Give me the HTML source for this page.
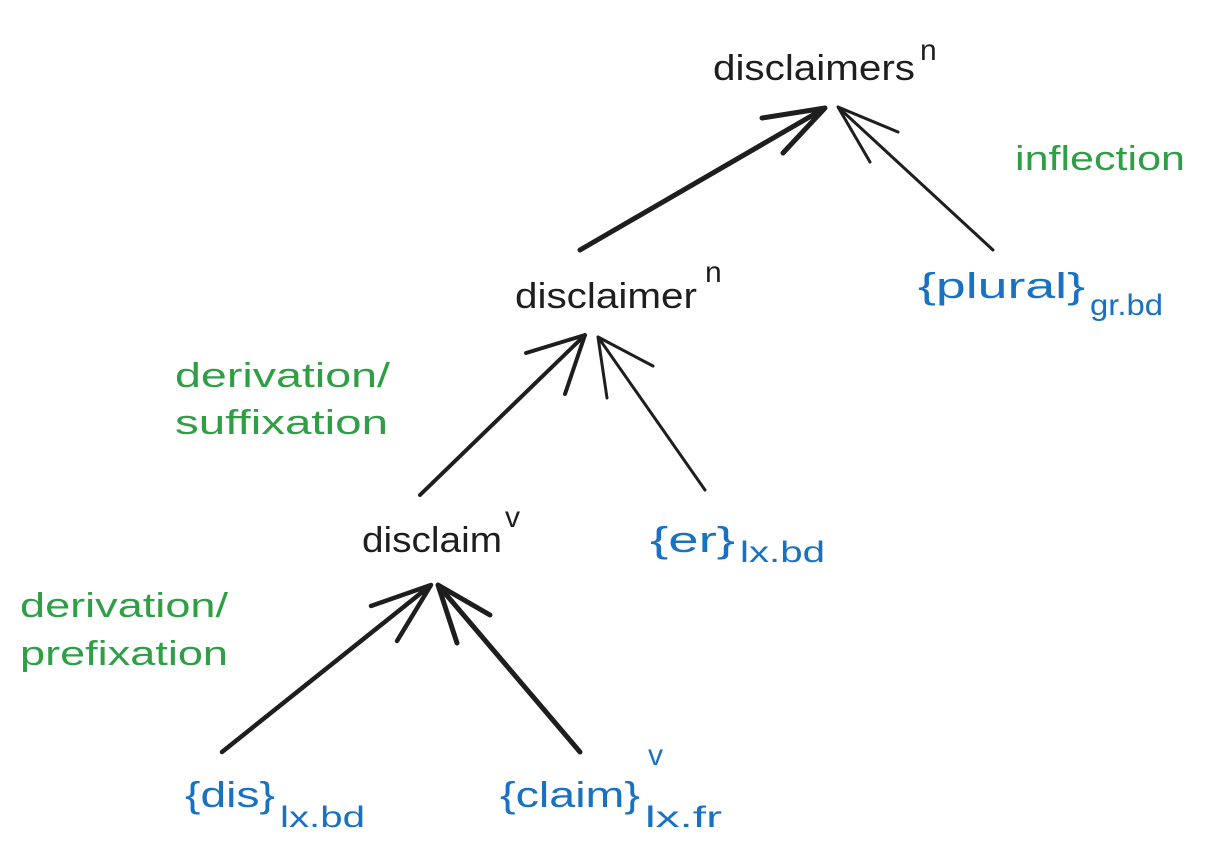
<!DOCTYPE html>
<html><head><meta charset="utf-8"><style>
html,body{margin:0;padding:0;background:#fff;}
svg{display:block;}
text{font-family:"Liberation Sans","DejaVu Sans",sans-serif;}
.k{fill:#1e1e1e;font-size:36px;}
.b{fill:#1971c2;font-size:36px;}
.g{fill:#2f9e44;font-size:34px;}
.s{font-size:30px;}
</style></head><body>
<svg width="1205" height="864" viewBox="0 0 1205 864" xmlns="http://www.w3.org/2000/svg">
<g stroke="#1e1e1e" stroke-linecap="round" stroke-linejoin="round" fill="none">
<path d="M580 250 L825 108 M762 118 L825 108 L783 153" stroke-width="5"/>
<path d="M993 250 L838 107 M898 132 L838 107 L870 162" stroke-width="3"/>
<path d="M420 495 L585 335 M526 353 L585 335 L565 394" stroke-width="4"/>
<path d="M705 490 L598 337 M607 398 L598 337 L653 366" stroke-width="3"/>
<path d="M222 752 L431 585 M371 606 L431 585 L397 641" stroke-width="4.5"/>
<path d="M580 752 L438 585 M457 643 L438 585 L490 615" stroke-width="5"/>
</g>
<text class="k" x="713" y="80" textLength="202" lengthAdjust="spacingAndGlyphs">disclaimers</text>
<text class="k s" x="920" y="60">n</text>
<text class="g" x="1015" y="170" textLength="170" lengthAdjust="spacingAndGlyphs">inflection</text>
<text class="k" x="515" y="308" textLength="182" lengthAdjust="spacingAndGlyphs">disclaimer</text>
<text class="k s" x="705" y="282">n</text>
<text class="b" x="918" y="298" textLength="167" lengthAdjust="spacingAndGlyphs">{plural}</text>
<text class="b s" x="1090" y="315" textLength="73" lengthAdjust="spacingAndGlyphs">gr.bd</text>
<text class="g" x="175" y="387" textLength="215" lengthAdjust="spacingAndGlyphs">derivation/</text>
<text class="g" x="175" y="434" textLength="213" lengthAdjust="spacingAndGlyphs">suffixation</text>
<text class="k" x="362" y="552" textLength="140" lengthAdjust="spacingAndGlyphs">disclaim</text>
<text class="k s" x="505" y="527">v</text>
<text class="b" x="650" y="552" textLength="85" lengthAdjust="spacingAndGlyphs">{er}</text>
<text class="b s" x="740" y="562" textLength="85" lengthAdjust="spacingAndGlyphs">lx.bd</text>
<text class="g" x="20" y="617" textLength="208" lengthAdjust="spacingAndGlyphs">derivation/</text>
<text class="g" x="20" y="665" textLength="208" lengthAdjust="spacingAndGlyphs">prefixation</text>
<text class="b" x="185" y="807" textLength="90" lengthAdjust="spacingAndGlyphs">{dis}</text>
<text class="b s" x="280" y="827" textLength="85" lengthAdjust="spacingAndGlyphs">lx.bd</text>
<text class="b" x="500" y="807" textLength="140" lengthAdjust="spacingAndGlyphs">{claim}</text>
<text class="b s" x="648" y="765">v</text>
<text class="b s" x="645" y="827" textLength="77" lengthAdjust="spacingAndGlyphs">lx.fr</text>
</svg>
</body></html>
